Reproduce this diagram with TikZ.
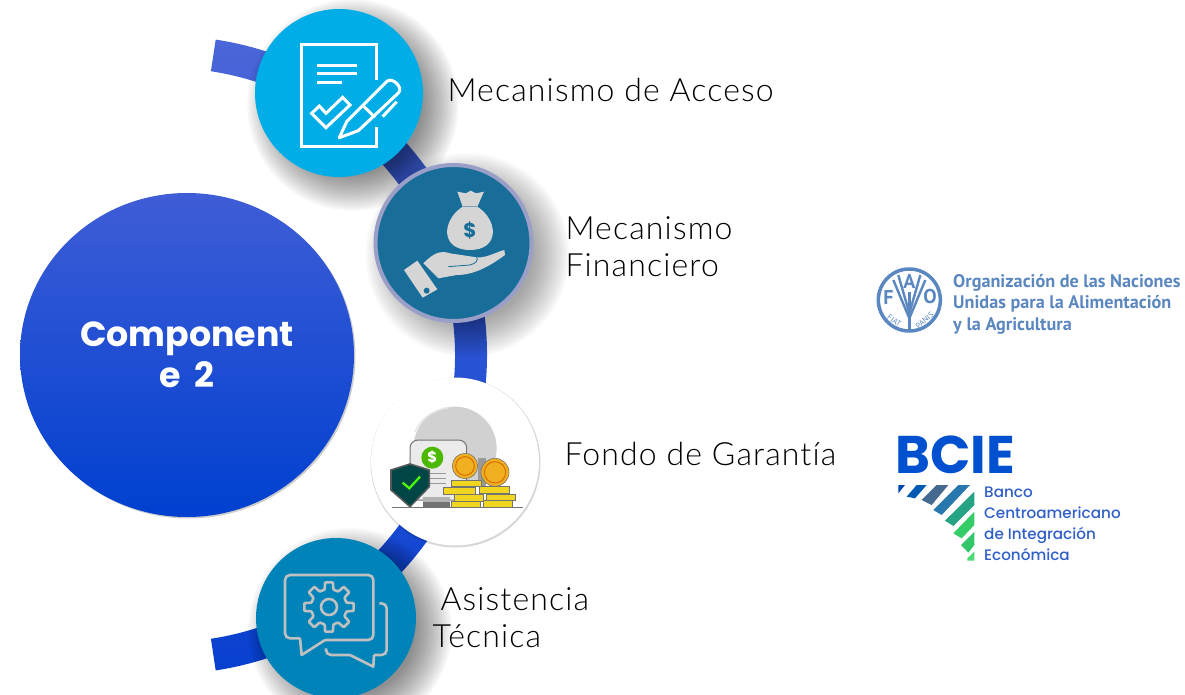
\documentclass[tikz,border=0pt]{standalone}
\usepackage{fontspec}
\usepackage{xcolor}
\usetikzlibrary{shapes.geometric}
\setmainfont{Lato Light}[LetterSpace=3.6, Ligatures=NoCommon]
\newfontfamily\titlefont{Poppins}[BoldFont=* Bold]
\newfontfamily\faofont{PT Sans}
\newfontfamily\bciefont{Poppins Medium}
\definecolor{ringtop}{HTML}{4A66D8}
\definecolor{ringmid}{HTML}{2444B4}
\definecolor{ringlow}{HTML}{0840D0}
\definecolor{hubtop}{HTML}{3F5DD6}
\definecolor{hubmid}{HTML}{1A4CD6}
\definecolor{hublow}{HTML}{0040D0}
\definecolor{accesoblue}{HTML}{00ADE6}
\definecolor{financieroblue}{HTML}{186E98}
\definecolor{financieroring}{HTML}{9A9FC8}
\definecolor{asistenciablue}{HTML}{0083B8}
\definecolor{paleicon}{HTML}{D5D5D5}
\definecolor{faoblue}{HTML}{5B87C0}
\definecolor{bcieblue}{HTML}{0050D0}
\definecolor{bcietext}{HTML}{2F5FC8}
\definecolor{coingold}{HTML}{F0B020}
\definecolor{baryellow}{HTML}{F2D51E}
\tikzset{
    icon-circle/.style = {circle, inner sep=0pt, outer sep=0pt, minimum size=#1},
    label-text/.style = {anchor=west, align=left, text=black, font=\fontsize{32}{37}\selectfont},
    white-line/.style = {draw=white, line width=3pt, line join=miter},
    pale-line/.style = {draw=paleicon!90!black, line width=2.6pt, rounded corners=5pt},
    bar-coin/.style = {draw=black!55, fill=baryellow, line width=0.5pt},
    crop-top/.style = {shift={(200,0)}, scale=1/3},
    crop-low/.style = {shift={(200,360)}, scale=1/3},
    crop-logo/.style = {shift={(860,250)}, scale=1/3},
}
\newcommand{\softshadow}[3]{%
    \foreach \s in {0,...,17}
        \fill[black, opacity=#3] ([shift={(14,12)}]#1) circle ({#2+\s*2.1-14});
}

\begin{document}
\begin{tikzpicture}[x=1pt, y=-1pt]
\useasboundingbox (0,0) rectangle (1185,695);
\coordinate (hub) at (168,355);
\coordinate (acceso) at (339,93);
\coordinate (financiero) at (453.5,243);
\coordinate (fondo) at (455,461.5);
\coordinate (asistencia) at (336,618);
\coordinate (arcTop) at ([shift={(-81.4:319)}]hub);
\coordinate (arcBottom) at ([shift={(81.4:287)}]hub);
% ring behind the icons
\shade[top color=ringtop, middle color=ringmid, bottom color=ringlow]
    (arcTop) arc[start angle=-81.4, end angle=81.4, radius=319]
    -- (arcBottom) arc[start angle=81.4, end angle=-81.4, radius=287] -- cycle;
\softshadow{acceso}{84}{0.032}
\softshadow{financiero}{80}{0.025}
\softshadow{asistencia}{80}{0.032}
\fill[black, opacity=0.2] (188.5,356.5) ellipse (167 and 162);
\node[ellipse, inner sep=0pt, outer sep=0pt, minimum width=334pt, minimum height=324pt,
    top color=hubtop, middle color=hubmid, bottom color=hublow, text=white, align=center,
    font=\titlefont\bfseries\fontsize{34.8}{41}\selectfont] (component) at (187,355) {Component\\e\ \hspace{7pt}2};
\node[icon-circle=168pt, fill=accesoblue] (accesoIcon) at (acceso) {};
\node[icon-circle=156pt, fill=financieroblue, draw=financieroring, line width=4pt] (financieroIcon) at (financiero) {};
\fill[black, opacity=0.16] (455.5,462.5) circle (85);
\node[icon-circle=168pt, fill=white] (fondoIcon) at (fondo) {};
\node[icon-circle=160pt, fill=asistenciablue] (asistenciaIcon) at (asistencia) {};

% document and pen
\begin{scope}[crop-top]
\draw[white-line] (528,240) -- (528,135) -- (303,135) -- (303,440) -- (528,440) -- (528,380);
\foreach \y/\xend in {197/472, 222/472, 248/425}
    \draw[white-line] (352,\y) -- (\xend,\y);
\draw[white-line] (335,340) -- (378,383) -- (450,315) -- (428,292) -- (378,340) -- (358,318) -- cycle;
\draw[white-line, line join=round] (418,413) -- (440,365) -- (562,243) .. controls (578,232) and (610,262) .. (596,278)
    -- (475,392) -- cycle;
\draw[white-line] (490,318) -- (525,352);
\draw[white-line] (590,305) -- (548,350);
\end{scope}

% money bag and hand
\begin{scope}[crop-top]
\fill[paleicon] (772,575) -- (798,580) -- (812,572) -- (828,580) -- (852,575) -- (832,620)
    .. controls (895,660) and (900,750) .. (810,750) .. controls (720,750) and (725,660) .. (788,620) -- cycle;
\draw[financieroblue!50!paleicon, line width=1pt] (788,620) -- (832,620);
\node[text=financieroblue, font=\titlefont\bfseries\fontsize{20}{20}\selectfont] (bagDollar) at (810,692) {\$};
\fill[paleicon] (612,810) -- (652,782) -- (712,868) -- (668,893) -- cycle;
\fill[financieroblue] (680,872) circle (9);
\fill[paleicon] (670,790) .. controls (700,760) and (720,750) .. (750,760) -- (830,772)
    .. controls (860,775) and (890,755) .. (913,750) -- (915,765) .. controls (880,790) and (830,825) .. (770,825)
    -- (715,835) -- cycle;
\draw[financieroblue, line width=0.8pt] (745,800) -- (810,795) .. controls (830,790) and (835,780) .. (830,772);
\end{scope}

% guarantee fund
\begin{scope}[crop-low]
\fill[black!18] (765,265) circle (125);
\draw[black!10, line width=1.5pt] (645,215) arc[start angle=205, end angle=265, radius=125];
\draw[black!55, fill=black!8, line width=1pt, rounded corners=8pt] (630,420) -- (630,240) -- (800,240) -- (800,420) -- cycle;
\fill[black!55] (670,415) rectangle (750,442);
\fill[black!30] (670,412) rectangle (750,425);
\fill[black!40] (835,295) rectangle (858,380);
\foreach \y in {340,355,370}
    \draw[black!40, line width=1pt] (690,\y) -- (738,\y);
\fill[green!60!black!70!yellow] (697,293) circle (33);
\node[text=white, font=\titlefont\bfseries\fontsize{15}{15}\selectfont] (shieldDollar) at (697,293) {\$};
\draw[black!65, fill=teal!55!black, line width=1.6pt] (573,330) -- (630,312) -- (688,330) -- (688,380) -- (630,440) -- (573,390) -- cycle;
\draw[green!70!yellow, line width=2.2pt] (608,368) -- (628,385) -- (660,350);
\foreach \cx/\cy/\rr in {795/318/38, 885/337/42} {
    \draw[black!55, fill=coingold, line width=0.6pt] (\cx,\cy) circle (\rr);
    \draw[orange!85!black, line width=1pt] (\cx,\cy) circle (\rr-10);
}
\foreach \xa/\xb/\ya/\yb in {755/845/360/380, 730/825/382/402, 762/850/403/423, 755/840/424/442, 838/928/380/400, 858/945/402/420, 850/938/422/442}
    \draw[bar-coin] (\xa,\ya) rectangle (\xb,\yb);
\draw[black!55, line width=1.2pt] (575,443) -- (968,443);
\end{scope}

% speech bubbles and gear
\begin{scope}[crop-low]
\draw[pale-line] (375,840) -- (520,840) -- (520,645) -- (255,645) -- (255,835) -- (300,835);
\draw[pale-line, rounded corners=0pt, line join=round] (300,835) -- (305,885) -- (375,840);
\draw[pale-line] (538,730) -- (560,730) -- (560,885) -- (522,885);
\draw[pale-line, rounded corners=0pt, line join=round] (522,885) -- (520,920) -- (450,885);
\draw[pale-line] (450,885) -- (378,885) -- (378,865);
\end{scope}
\begin{scope}[shift={(329,607)}]
\draw[pale-line, rounded corners=0.8pt] (-14:18) \foreach \a in {0,45,...,315} { -- (\a-14:18) -- (\a-9:25) -- (\a+9:25) -- (\a+14:18)} -- cycle;
\draw[pale-line, rounded corners=0pt] (0,0) circle (8);
\end{scope}

\node[label-text] (accesoLabel) at (444,90) {Mecanismo de Acceso};
\node[label-text] (financieroLabel) at (562,246.5) {Mecanismo\\Financiero};
\node[label-text] (fondoLabel) at (561,454) {Fondo de Garantía};
\node[label-text] (asistenciaLabel) at (429,618) {\hspace*{8pt}Asistencia\\Técnica};

% FAO logo
\begin{scope}[crop-logo]
\draw[faoblue, line width=3.5pt] (148,150) circle (93);
\draw[faoblue, line width=2.4pt] (115,75) -- (148,190) -- (181,75);
\draw[faoblue, line width=2.4pt] (100,90) -- (148,205) -- (196,90);
\draw[faoblue, line width=2.4pt] (148,125) -- (148,245);
\node[text=faoblue, inner sep=0pt, font=\faofont\bfseries\fontsize{20}{20}\selectfont] (faoA) at (148,95) {A};
\node[text=faoblue, inner sep=0pt, font=\faofont\bfseries\fontsize{20}{20}\selectfont] (faoF) at (85,143) {F};
\node[text=faoblue, inner sep=0pt, font=\faofont\bfseries\fontsize{20}{20}\selectfont] (faoO) at (210,140) {O};
\node[text=faoblue, rotate=-35, inner sep=0pt, font=\faofont\fontsize{8}{8}\selectfont] (faoFiat) at (103,212) {FIAT};
\node[text=faoblue, rotate=40, inner sep=0pt, font=\faofont\fontsize{8}{8}\selectfont] (faoPanis) at (194,212) {PANIS};
\end{scope}
\node[anchor=west, align=left, inner sep=0pt, text=faoblue, font=\faofont\bfseries\fontsize{18.2}{21.5}\selectfont] (faoText) at (953,304)
    {Organización de las Naciones\\Unidas para la Alimentación\\y la Agricultura};

% BCIE logo
\node[anchor=west, inner sep=0pt, text=bcieblue, font=\titlefont\bfseries\fontsize{53}{53}\selectfont] (bcieTitle) at (895,455) {BCIE};
\begin{scope}[crop-logo]
\fill[blue!60!cyan!70!black] (115,705) -- (135,705) -- (115,730) -- cycle;
\fill[blue!50!cyan!70!black] (140,740) -- (170,705) -- (200,705) -- (165,745) -- cycle;
\fill[cyan!60!blue!60!black] (185,750) -- (230,705) -- (265,705) -- (215,765) -- cycle;
\fill[teal!75!blue!85!white] (220,780) -- (295,705) -- (330,705) -- (245,795) -- cycle;
\fill[teal!85!green!85!white] (255,812) -- (343,725) -- (343,765) -- (280,828) -- cycle;
\fill[teal!50!green!80!white] (280,850) -- (343,785) -- (343,825) -- (305,865) -- cycle;
\fill[green!45!teal!80!white] (303,885) -- (343,845) -- (343,885) -- (325,908) -- cycle;
\fill[green!60!teal!70!white] (322,925) -- (343,905) -- (343,932) -- (322,932) -- cycle;
\end{scope}
\node[anchor=north west, align=left, inner sep=0pt, text=bcietext, font=\bciefont\fontsize{15.2}{21}\selectfont] (bcieText) at (984,487)
    {Banco\\Centroamericano\\de Integración\\Económica};
\end{tikzpicture}
\end{document}
